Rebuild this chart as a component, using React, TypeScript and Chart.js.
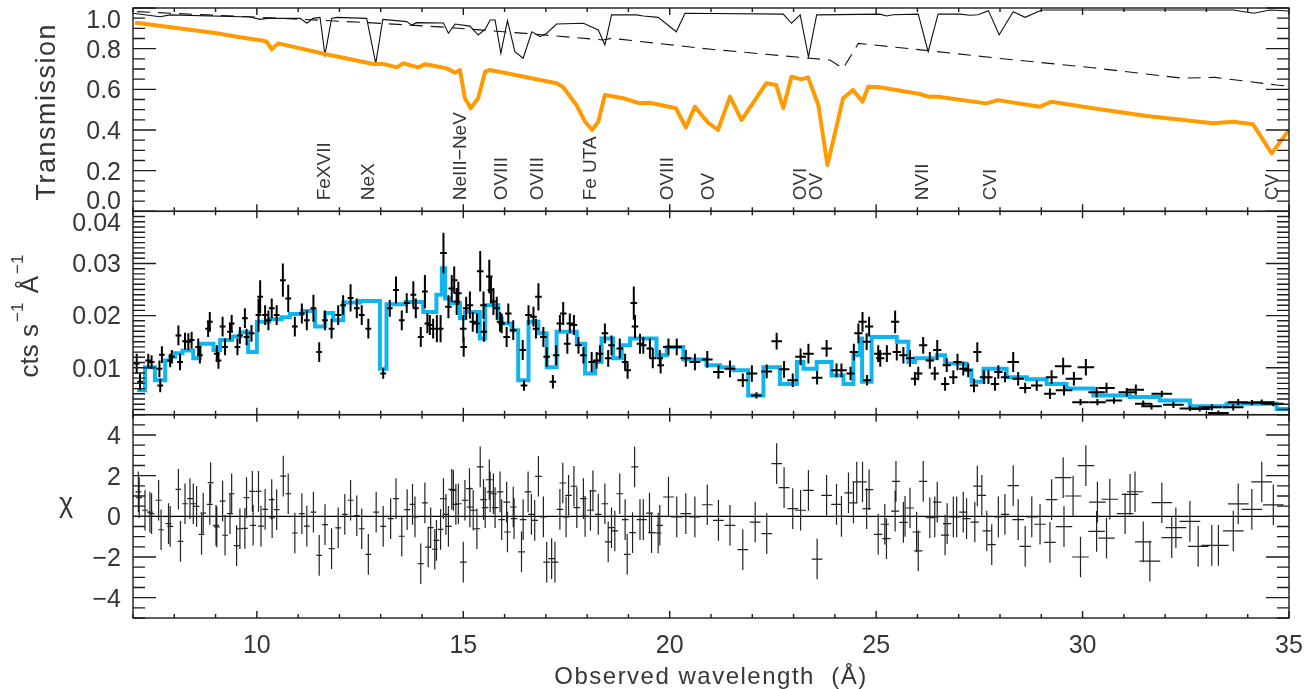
import React, { useEffect, useRef } from "react";
import { Chart, registerables } from "chart.js";
Chart.register(...registerables);

const W = 1311;
const H = 689;

// ---------- tick values ----------
const X_TICKS = [10, 15, 20, 25, 30, 35];
const TRANS_TICKS = [0, 0.2, 0.4, 0.6, 0.8, 1.0];
const FLUX_TICKS = [0.01, 0.02, 0.03, 0.04];
const CHI_TICKS = [-4, -2, 0, 2, 4];

// ---------- absorption line labels ----------
const LINE_NAMES = ["FeXVII", "NeX", "NeIII\u2212NeV", "OVIII", "OVIII", "Fe UTA", "OVIII", "OV", "OVI", "OV", "NVII", "CVI", "CV"];
const LINE_WAVES = [11.65, 12.72, 14.94, 15.94, 16.81, 18.09, 19.96, 20.95, 23.18, 23.57, 26.13, 27.78, 34.61];

// ---------- transmission curves [wavelength, transmission] ----------
const TOTAL_TRANS: number[][] = [
  [7.05, 0.928], [7.17, 0.925], [9.03, 0.876], [9.59, 0.856], [10.16, 0.839], [10.24, 0.834], [10.36, 0.797], [10.52, 0.826],
  [11.65, 0.774], [12.82, 0.725], [13.06, 0.725], [13.39, 0.708], [13.55, 0.728], [13.91, 0.708], [14.07, 0.723], [14.19, 0.72],
  [14.6, 0.703], [14.8, 0.682], [14.92, 0.695], [15.04, 0.556], [15.18, 0.507], [15.36, 0.556], [15.53, 0.687], [15.65, 0.695],
  [17.26, 0.63], [17.42, 0.61], [17.74, 0.523], [17.95, 0.441], [18.12, 0.4], [18.27, 0.441], [18.43, 0.572], [18.87, 0.556],
  [19.28, 0.531], [19.52, 0.534], [20.15, 0.507], [20.39, 0.413], [20.61, 0.514], [20.93, 0.436], [21.17, 0.4], [21.46, 0.564],
  [21.74, 0.449], [22.34, 0.63], [22.58, 0.621], [22.75, 0.507], [22.95, 0.662], [23.19, 0.649], [23.35, 0.659], [23.6, 0.523],
  [23.82, 0.228], [24.2, 0.556], [24.44, 0.597], [24.67, 0.539], [24.81, 0.613], [25.09, 0.61], [26.06, 0.577], [26.26, 0.564],
  [26.5, 0.564], [27.67, 0.531], [27.95, 0.547], [28.96, 0.514], [29.24, 0.539], [30.09, 0.512], [31.55, 0.469], [33.16, 0.433],
  [33.65, 0.441], [34.13, 0.428], [34.58, 0.285], [35.0, 0.4],
];
const IONIZED_TRANS: number[][] = [
  [7.0, 0.974], [7.65, 0.957], [7.9, 0.966], [9.83, 0.956], [10.08, 0.944], [10.25, 0.949], [11.05, 0.949], [11.21, 0.925],
  [11.36, 0.949], [11.53, 0.954], [11.65, 0.769], [11.81, 0.949], [11.94, 0.954], [12.66, 0.949], [12.88, 0.728], [13.05, 0.944],
  [13.63, 0.933], [13.75, 0.916], [13.87, 0.928], [14.52, 0.926], [14.64, 0.876], [14.8, 0.921], [15.16, 0.911], [15.36, 0.867],
  [15.53, 0.895], [15.65, 0.941], [15.77, 0.941], [15.91, 0.777], [16.07, 0.938], [16.25, 0.785], [16.45, 0.753], [16.66, 0.883],
  [16.86, 0.859], [17.02, 0.876], [17.26, 0.921], [17.91, 0.925], [18.27, 0.892], [18.43, 0.818], [18.59, 0.966], [19.2, 0.966],
  [19.36, 0.961], [19.72, 0.954], [20.16, 0.883], [20.37, 0.974], [22.75, 0.97], [22.95, 0.925], [23.16, 0.966], [23.36, 0.76],
  [23.56, 0.966], [25.09, 0.97], [25.25, 0.961], [25.41, 0.967], [26.02, 0.97], [26.26, 0.785], [26.5, 0.97], [27.03, 0.97],
  [27.27, 0.964], [27.47, 0.967], [27.72, 0.987], [27.98, 0.868], [28.32, 0.982], [28.61, 0.954], [29.01, 0.99], [30.02, 0.99],
  [33.65, 0.99], [34.14, 0.974], [34.54, 0.99], [35.0, 0.985],
];
const NEUTRAL_TRANS: number[][] = [
  [7.1, 0.982], [10.0, 0.955], [12.7, 0.928], [14.6, 0.905], [16.5, 0.875], [18.39, 0.843], [18.59, 0.851], [21.0, 0.797],
  [23.88, 0.744], [24.2, 0.703], [24.57, 0.826], [26.14, 0.793], [28.0, 0.752], [30.25, 0.706], [32.4, 0.655], [33.2, 0.659],
  [34.7, 0.621], [35.0, 0.616],
];

// ---------- spectrum [wavelength, cts/s/A, error] ----------
const SPECTRUM: number[][] = [
  [7.09, 0.0108, 0.0019], [7.17, 0.0073, 0.0016], [7.37, 0.0114, 0.0013], [7.45, 0.0111, 0.0013], [7.64, 0.0098, 0.0016],
  [7.66, 0.0066, 0.0013], [7.7, 0.0125, 0.0016], [7.9, 0.0114, 0.0013], [7.94, 0.0121, 0.0013], [8.1, 0.0162, 0.0019],
  [8.14, 0.0111, 0.0016], [8.26, 0.0151, 0.0016], [8.34, 0.015, 0.0016], [8.42, 0.0153, 0.0016], [8.58, 0.014, 0.0016],
  [8.62, 0.0124, 0.0016], [8.82, 0.0175, 0.0016], [8.86, 0.0188, 0.0019], [9.03, 0.0127, 0.0016], [9.07, 0.0114, 0.0016],
  [9.17, 0.0179, 0.0019], [9.23, 0.014, 0.0016], [9.35, 0.0169, 0.0016], [9.39, 0.0185, 0.0016], [9.53, 0.014, 0.0016],
  [9.59, 0.0162, 0.0016], [9.71, 0.0195, 0.0019], [9.75, 0.0159, 0.0016], [9.87, 0.0166, 0.0016], [10.04, 0.0201, 0.0032],
  [10.08, 0.0236, 0.0032], [10.2, 0.0201, 0.0019], [10.28, 0.0191, 0.0019], [10.36, 0.0214, 0.0019], [10.48, 0.0201, 0.0019],
  [10.63, 0.0268, 0.0032], [10.76, 0.0233, 0.0026], [10.92, 0.0179, 0.0019], [11.09, 0.0204, 0.0019], [11.21, 0.0191, 0.0019],
  [11.37, 0.0214, 0.0026], [11.51, 0.013, 0.0019], [11.65, 0.0191, 0.0019], [11.81, 0.0175, 0.0019], [11.97, 0.0201, 0.0019],
  [12.09, 0.022, 0.0019], [12.27, 0.0234, 0.0026], [12.42, 0.0214, 0.0019], [12.54, 0.0201, 0.0019], [12.7, 0.0175, 0.0019],
  [13.06, 0.0089, 0.001], [13.22, 0.0214, 0.0016], [13.37, 0.0249, 0.0026], [13.51, 0.0191, 0.0019], [13.63, 0.0224, 0.0019],
  [13.79, 0.024, 0.0026], [13.85, 0.0214, 0.0019], [13.97, 0.0159, 0.0019], [14.07, 0.0246, 0.0032], [14.13, 0.0185, 0.0019],
  [14.19, 0.0182, 0.0019], [14.27, 0.0175, 0.0019], [14.36, 0.0175, 0.0026], [14.45, 0.0175, 0.0026], [14.52, 0.032, 0.0039],
  [14.64, 0.0217, 0.0022], [14.72, 0.0252, 0.0026], [14.78, 0.0268, 0.0026], [14.84, 0.0227, 0.0026], [14.88, 0.0243, 0.0022],
  [15.0, 0.0175, 0.0026], [15.01, 0.014, 0.0019], [15.07, 0.0214, 0.0022], [15.16, 0.022, 0.0026], [15.23, 0.0188, 0.0019],
  [15.33, 0.0185, 0.0019], [15.41, 0.0285, 0.0039], [15.49, 0.022, 0.0026], [15.5, 0.0169, 0.0019], [15.63, 0.0275, 0.0032],
  [15.67, 0.0249, 0.0026], [15.73, 0.0227, 0.0026], [15.81, 0.0214, 0.0022], [15.89, 0.0188, 0.0019], [15.93, 0.0185, 0.0019],
  [16.05, 0.0159, 0.0019], [16.09, 0.0204, 0.0019], [16.21, 0.0172, 0.0019], [16.44, 0.0134, 0.0019], [16.47, 0.0066, 0.001],
  [16.58, 0.0201, 0.0019], [16.7, 0.0198, 0.0019], [16.76, 0.0175, 0.0019], [16.82, 0.0236, 0.0026], [16.94, 0.0159, 0.0019],
  [17.02, 0.0121, 0.0019], [17.17, 0.0073, 0.0013], [17.25, 0.0124, 0.0019], [17.34, 0.0185, 0.0016], [17.42, 0.0204, 0.0022],
  [17.52, 0.0146, 0.0019], [17.58, 0.0185, 0.0019], [17.68, 0.0182, 0.0019], [17.79, 0.0143, 0.0016], [17.91, 0.0124, 0.0016],
  [18.11, 0.0111, 0.0019], [18.23, 0.0114, 0.0016], [18.31, 0.0127, 0.0016], [18.43, 0.0166, 0.0019], [18.51, 0.0118, 0.0016],
  [18.59, 0.0143, 0.0019], [18.79, 0.0137, 0.0019], [18.92, 0.0111, 0.0016], [18.98, 0.0095, 0.0016], [19.13, 0.0224, 0.0032],
  [19.16, 0.0179, 0.0022], [19.28, 0.0146, 0.0019], [19.36, 0.0143, 0.0016], [19.52, 0.0137, 0.0019], [19.59, 0.0118, 0.0019],
  [19.76, 0.0118, 0.0016], [19.78, 0.0105, 0.0016], [19.97, 0.014, 0.0016], [20.17, 0.014, 0.0016], [20.39, 0.0118, 0.0016],
  [20.61, 0.0111, 0.0016], [20.91, 0.0116, 0.0016], [21.18, 0.0092, 0.0013], [21.46, 0.0098, 0.0016], [21.77, 0.0076, 0.0013],
  [21.99, 0.0089, 0.0016], [22.1, 0.0047, 0.0006], [22.35, 0.0093, 0.0013], [22.59, 0.0151, 0.0016], [22.77, 0.0097, 0.0016],
  [22.98, 0.0076, 0.0013], [23.17, 0.0121, 0.0016], [23.36, 0.0127, 0.0019], [23.57, 0.0081, 0.0013], [23.8, 0.0137, 0.0016],
  [24.04, 0.0095, 0.0013], [24.16, 0.0095, 0.0013], [24.38, 0.0089, 0.0013], [24.46, 0.013, 0.0016], [24.57, 0.0166, 0.0019],
  [24.67, 0.0188, 0.0019], [24.77, 0.015, 0.0016], [24.78, 0.0076, 0.001], [24.83, 0.0179, 0.0019], [25.05, 0.0127, 0.0016],
  [25.1, 0.0118, 0.0016], [25.26, 0.0127, 0.0016], [25.46, 0.0188, 0.0022], [25.5, 0.013, 0.0016], [25.66, 0.0124, 0.0016],
  [25.82, 0.0118, 0.0016], [25.94, 0.0079, 0.0013], [26.02, 0.0089, 0.0013], [26.14, 0.0143, 0.0016], [26.3, 0.0114, 0.0016],
  [26.42, 0.0089, 0.0013], [26.48, 0.0134, 0.0019], [26.67, 0.0069, 0.0013], [26.71, 0.0105, 0.0013], [26.87, 0.0082, 0.0013],
  [26.97, 0.0111, 0.0016], [27.11, 0.0098, 0.0013], [27.23, 0.0095, 0.0013], [27.37, 0.0066, 0.0013], [27.45, 0.013, 0.0019],
  [27.61, 0.0082, 0.0013], [27.72, 0.0082, 0.0013], [27.88, 0.0069, 0.0013], [27.96, 0.0092, 0.0013], [28.12, 0.0082, 0.001],
  [28.32, 0.0111, 0.0019], [28.44, 0.0079, 0.0013], [28.61, 0.0061, 0.001], [28.89, 0.0066, 0.001], [29.21, 0.005, 0.001],
  [29.25, 0.0082, 0.0013], [29.53, 0.0103, 0.0016], [29.55, 0.0057, 0.001], [29.79, 0.0079, 0.0013], [29.95, 0.0034, 0.0006],
  [30.08, 0.0101, 0.0016], [30.34, 0.0053, 0.001], [30.36, 0.0034, 0.0006], [30.58, 0.0061, 0.001], [30.76, 0.0037, 0.0006],
  [31.07, 0.0053, 0.0008], [31.29, 0.0058, 0.001], [31.47, 0.0031, 0.0006], [31.67, 0.0026, 0.0006], [31.92, 0.005, 0.0006],
  [32.2, 0.0029, 0.0006], [32.6, 0.0022, 0.0005], [32.84, 0.0021, 0.0005], [33.13, 0.0024, 0.0006], [33.29, 0.0013, 0.0005],
  [33.65, 0.0024, 0.0006], [33.77, 0.0034, 0.0006], [34.1, 0.0033, 0.0005], [34.34, 0.0034, 0.0005], [34.62, 0.0031, 0.0005],
];

// ---------- model (bin left edge, value) ----------
const MODEL: number[][] = [
  [7.1, 0.0057], [7.29, 0.0101], [7.53, 0.0076], [7.78, 0.0114], [7.9, 0.0121], [8.02, 0.0128], [8.2, 0.0133], [8.46, 0.0118],
  [8.62, 0.0146], [8.95, 0.0134], [9.11, 0.0153], [9.4, 0.016], [9.6, 0.0168], [9.79, 0.013], [10.0, 0.0188], [10.3, 0.0193],
  [10.6, 0.0197], [10.8, 0.0203], [11.1, 0.0209], [11.41, 0.0179], [11.65, 0.0205], [11.85, 0.0191], [12.09, 0.0225], [12.5, 0.0228],
  [12.98, 0.0098], [13.14, 0.0222], [13.6, 0.0226], [14.03, 0.0207], [14.35, 0.024], [14.48, 0.0291], [14.56, 0.0233], [14.68, 0.0224],
  [14.92, 0.0195], [15.04, 0.0207], [15.4, 0.0156], [15.53, 0.022], [15.85, 0.0195], [15.93, 0.0185], [16.17, 0.0172], [16.33, 0.0076],
  [16.58, 0.0188], [16.82, 0.0166], [17.02, 0.0101], [17.26, 0.0169], [17.75, 0.0146], [17.95, 0.0089], [18.19, 0.0111], [18.35, 0.0156],
  [18.63, 0.0118], [18.84, 0.0143], [19.04, 0.0156], [19.68, 0.0124], [19.93, 0.014], [20.33, 0.0116], [20.89, 0.0105], [21.22, 0.0101],
  [21.54, 0.0095], [21.9, 0.0047], [22.27, 0.0101], [22.67, 0.0069], [23.08, 0.0111], [23.24, 0.0098], [23.56, 0.0111], [23.92, 0.0085],
  [24.21, 0.0069], [24.45, 0.0124], [24.61, 0.0156], [24.66, 0.0073], [24.89, 0.0159], [25.5, 0.015], [25.78, 0.0111], [25.94, 0.0118],
  [26.47, 0.0124], [26.67, 0.0108], [27.19, 0.0095], [27.31, 0.0073], [27.6, 0.0098], [28.16, 0.0082], [28.65, 0.0078], [29.13, 0.0069],
  [29.61, 0.006], [30.26, 0.0047], [31.15, 0.0044], [31.87, 0.0037], [32.6, 0.0026], [33.49, 0.0031], [34.7, 0.0021], [35.0, 0.0021],
];

// ---------- residuals [wavelength, chi] (error = 1) ----------
const RESIDUALS: number[][] = [
  [7.13, 1.2], [7.15, 0.92], [7.29, 0.3], [7.41, 0.21], [7.45, 0.13], [7.62, 0.79], [7.68, -0.66], [7.86, -0.36], [7.9, -0.49],
  [8.1, 1.33], [8.15, -1.23], [8.26, 0.62], [8.38, 0.87], [8.46, 0.62], [8.54, 0.49], [8.66, -0.89], [8.7, 0.16], [8.86, 0.59],
  [8.88, 1.66], [9.01, -0.44], [9.03, -0.52], [9.17, 0.75], [9.23, -0.93], [9.35, 0.13], [9.39, 1.11], [9.51, -1.44], [9.59, -0.61],
  [9.71, -0.59], [9.75, 0.92], [9.89, 1.23], [9.91, -0.44], [10.04, 1.23], [10.1, -0.48], [10.2, 0.34], [10.36, 0.82], [10.37, -0.07],
  [10.48, 0.33], [10.64, 1.98], [10.76, 1.11], [10.92, -0.82], [11.09, 0.13], [11.21, -0.48], [11.37, 0.21], [11.51, -1.92],
  [11.65, -0.41], [11.81, -1.59], [11.97, -0.57], [12.13, 0.1], [12.27, 0.79], [12.42, 0.03], [12.54, -0.61], [12.7, -1.87],
  [12.89, 0.21], [13.06, -0.49], [13.24, -0.11], [13.37, 0.87], [13.51, -0.98], [13.64, 0.33], [13.77, 0.59], [13.83, -0.03],
  [13.97, -2.33], [14.07, 0.66], [14.15, -1.51], [14.21, -0.56], [14.31, -1.62], [14.35, -1.18], [14.45, -0.64], [14.52, 0.87],
  [14.58, 0.1], [14.64, -0.49], [14.72, 1.33], [14.76, 1.28], [14.82, 0.59], [14.88, 0.62], [15.0, -2.25], [15.04, 0.79],
  [15.15, 1.36], [15.16, 0.46], [15.24, 0.3], [15.33, -0.61], [15.41, 2.43], [15.49, 0.82], [15.53, 0.43], [15.63, 1.8],
  [15.65, 1.2], [15.73, 1.11], [15.77, 0.43], [15.89, 1.2], [15.93, -0.16], [16.05, 0.7], [16.07, -0.77], [16.21, 0.46],
  [16.23, -0.11], [16.41, -1.75], [16.45, -0.16], [16.57, 1.2], [16.65, 0.1], [16.73, -0.2], [16.82, 1.97], [16.94, -0.03],
  [17.02, -2.25], [17.14, -2.08], [17.22, -2.25], [17.34, 0.34], [17.41, 1.64], [17.49, -0.03], [17.55, 1.03], [17.68, 1.48],
  [17.75, 0.43], [17.91, 0.87], [17.95, 0.0], [18.08, 0.3], [18.14, 1.25], [18.27, 0.1], [18.43, 0.62], [18.51, -1.26],
  [18.59, -0.56], [18.67, -0.72], [18.79, 1.11], [18.92, -0.16], [18.97, -1.87], [19.1, -0.8], [19.15, 2.43], [19.28, -0.16],
  [19.36, -0.16], [19.51, 0.16], [19.56, -0.8], [19.72, -0.82], [19.76, -0.44], [19.97, 0.95], [20.17, -0.03], [20.39, 0.13],
  [20.61, -0.03], [20.91, 0.57], [21.18, -0.2], [21.46, -0.44], [21.77, -1.64], [22.07, -0.28], [22.35, -0.85], [22.59, 2.59],
  [22.77, 1.41], [22.98, 0.38], [23.17, 0.3], [23.36, 1.28], [23.57, -2.1], [23.8, 1.03], [24.04, 0.59], [24.16, 0.0],
  [24.33, 1.15], [24.45, 0.66], [24.53, 1.69], [24.67, 1.69], [24.77, 0.38], [24.83, 1.31], [25.05, -0.89], [25.21, -0.39],
  [25.25, -1.1], [25.46, 0.26], [25.48, 1.72], [25.66, -0.3], [25.7, 0.0], [25.82, 0.41], [25.98, -0.77], [26.02, -1.7],
  [26.14, 1.72], [26.3, -0.07], [26.42, -0.03], [26.48, 0.7], [26.67, -0.92], [26.72, -0.36], [26.87, -0.03], [26.95, -0.03],
  [27.11, 0.21], [27.19, -0.11], [27.39, -0.28], [27.45, 1.49], [27.56, 1.03], [27.68, -0.72], [27.8, -1.39], [27.96, -0.03],
  [28.12, 0.1], [28.32, 1.51], [28.44, -0.16], [28.61, -1.48], [28.77, -0.03], [28.97, -0.39], [29.21, -1.28], [29.25, 0.82],
  [29.53, 1.9], [29.55, -0.51], [29.77, 1.0], [29.95, -2.0], [30.08, 2.49], [30.34, -0.74], [30.36, 0.7], [30.58, -1.07],
  [30.66, 0.84], [31.03, 0.13], [31.15, 1.08], [31.27, 1.21], [31.47, -1.26], [31.63, -2.2], [31.92, 0.67], [32.16, -1.05],
  [32.26, -0.56], [32.6, -0.25], [32.8, -1.48], [33.13, -1.43], [33.29, -1.43], [33.65, -0.72], [33.77, 0.61], [34.1, 0.34],
  [34.34, 1.69], [34.62, 0.56],
];
const RESIDUAL_ERROR = 1;

// bin half-widths (Angstrom) by wavelength range start
const BIN_HALF_ZONES: number[][] = [[7, 0.07], [14.5, 0.08], [19.8, 0.13], [24.3, 0.1], [28.3, 0.14], [29.5, 0.2], [31.5, 0.25]];

function binHalf(l: number): number {
  let w = BIN_HALF_ZONES[0][1];
  for (const [s, h] of BIN_HALF_ZONES) if (l >= s) w = h;
  return w;
}

function crosses(rows: number[][], errOf: (r: number[]) => number) {
  const pts: { x: number; y: number | null }[] = [];
  for (const r of rows) {
    const l = r[0], v = r[1], e = errOf(r), dx = binHalf(l);
    pts.push({ x: l - dx, y: v }, { x: l + dx, y: v }, { x: l + dx, y: null });
    pts.push({ x: l, y: v - e }, { x: l, y: v + e }, { x: l, y: null });
  }
  return pts;
}

const xy = (rows: number[][]) => rows.map((r) => ({ x: r[0], y: r[1] }));

const FONT = '"Liberation Sans", Arial, sans-serif';
const INK = "#1c1c1c";
const TEXT = "#363636";

const PANELS = [
  { id: "yT", ticks: TRANS_TICKS, minor: 0.05, fmt: (v: number) => v.toFixed(1) },
  { id: "yM", ticks: FLUX_TICKS, minor: 0.001, fmt: (v: number) => v.toFixed(2) },
  { id: "yB", ticks: CHI_TICKS, minor: 0.5, fmt: (v: number) => (v < 0 ? "\u2212" + Math.abs(v) : String(v)) },
];

const idlAxes = {
  id: "idlAxes",
  afterDraw(chart: any) {
    const ctx: CanvasRenderingContext2D = chart.ctx;
    const { left, right, bottom } = chart.chartArea;
    const xs = chart.scales.x;
    ctx.save();
    ctx.strokeStyle = INK;
    ctx.fillStyle = TEXT;
    ctx.lineWidth = 1.4;
    for (const p of PANELS) {
      const ys = chart.scales[p.id];
      const top = ys.top, bot = ys.bottom;
      ctx.strokeRect(left, top, right - left, bot - top);
      ctx.beginPath();
      for (let k = Math.ceil(xs.min); k <= Math.floor(xs.max); k++) {
        const px = xs.getPixelForValue(k);
        const len = X_TICKS.includes(k) ? 7 : 4;
        ctx.moveTo(px, top); ctx.lineTo(px, top + len);
        ctx.moveTo(px, bot); ctx.lineTo(px, bot - len);
      }
      const n0 = Math.ceil(ys.min / p.minor - 1e-6), n1 = Math.floor(ys.max / p.minor + 1e-6);
      for (let n = n0; n <= n1; n++) {
        const v = n * p.minor;
        const major = p.ticks.some((t) => Math.abs(t - v) < p.minor * 0.01);
        const len = major ? 23 : 12;
        const py = ys.getPixelForValue(v);
        ctx.moveTo(left, py); ctx.lineTo(left + len, py);
        ctx.moveTo(right, py); ctx.lineTo(right - len, py);
      }
      ctx.stroke();
      ctx.font = `25px ${FONT}`;
      ctx.textAlign = "right";
      ctx.textBaseline = "middle";
      for (const t of p.ticks) {
        let py = ys.getPixelForValue(t) + 2;
        py = Math.min(Math.max(py, top + 13), bot - 9);
        ctx.fillText(p.fmt(t), 121, py);
      }
    }
    // x tick labels and title
    ctx.font = `25px ${FONT}`;
    ctx.textAlign = "center";
    ctx.textBaseline = "alphabetic";
    for (const t of X_TICKS) ctx.fillText(String(t), xs.getPixelForValue(t), bottom + 35);
    (ctx as any).letterSpacing = "1.5px";
    ctx.font = `24px ${FONT}`;
    ctx.fillText("Observed wavelength  (\u00c5)", (left + right) / 2, bottom + 66);
    // y titles
    const yT = chart.scales.yT, yM = chart.scales.yM, yB = chart.scales.yB;
    ctx.save();
    ctx.font = `27px ${FONT}`;
    ctx.translate(55, (yT.top + yT.bottom) / 2 + 2);
    ctx.rotate(-Math.PI / 2);
    ctx.fillText("Transmission", 0, 0);
    ctx.restore();
    (ctx as any).letterSpacing = "0px";
    // cts s^-1 A^-1
    ctx.save();
    const runs = [
      { t: "cts s", f: 26, dy: 0 },
      { t: "\u22121", f: 17, dy: -15 },
      { t: " \u00c5", f: 26, dy: 0 },
      { t: "\u22121", f: 17, dy: -15 },
    ];
    let total = 0;
    for (const r of runs) { ctx.font = `${r.f}px ${FONT}`; total += ctx.measureText(r.t).width + 2; }
    ctx.translate(38, (yM.top + yM.bottom) / 2 + 2);
    ctx.rotate(-Math.PI / 2);
    ctx.textAlign = "left";
    let cx = -total / 2;
    for (const r of runs) {
      ctx.font = `${r.f}px ${FONT}`;
      ctx.fillText(r.t, cx, r.dy);
      cx += ctx.measureText(r.t).width + 2;
    }
    ctx.restore();
    ctx.font = `27px ${FONT}`;
    ctx.textAlign = "center";
    ctx.fillText("\u03c7", 66, (yB.top + yB.bottom) / 2 - 4);
    // absorption line labels
    ctx.font = `19px ${FONT}`;
    ctx.textAlign = "left";
    ctx.textBaseline = "middle";
    for (let i = 0; i < LINE_NAMES.length; i++) {
      ctx.save();
      ctx.translate(xs.getPixelForValue(LINE_WAVES[i]), yT.bottom - 11);
      ctx.rotate(-Math.PI / 2);
      ctx.fillText(LINE_NAMES[i], 0, 0);
      ctx.restore();
    }
    ctx.restore();
  },
};

const hiddenAxis = {
  grid: { display: false },
  border: { display: false },
  ticks: { display: false },
};

export default function App() {
  const ref = useRef<HTMLCanvasElement>(null);
  useEffect(() => {
    if (!ref.current) return;
    const chart = new Chart(ref.current, {
      type: "line",
      data: {
        datasets: [
          { data: xy(TOTAL_TRANS), xAxisID: "x", yAxisID: "yT", borderColor: "#ff9a00", borderWidth: 4, pointRadius: 0, order: 0, borderJoinStyle: "round" } as any,
          { data: xy(IONIZED_TRANS), xAxisID: "x", yAxisID: "yT", borderColor: "#111", borderWidth: 1.1, pointRadius: 0, order: 1 },
          { data: xy(NEUTRAL_TRANS), xAxisID: "x", yAxisID: "yT", borderColor: "#111", borderWidth: 1.1, borderDash: [13, 8], pointRadius: 0, order: 2 },
          { data: crosses(SPECTRUM, (r) => r[2]), xAxisID: "x", yAxisID: "yM", borderColor: "#000", borderWidth: 2, pointRadius: 0, spanGaps: false, order: 3, borderCapStyle: "butt" } as any,
          { data: xy(MODEL), xAxisID: "x", yAxisID: "yM", borderColor: "#10b4ee", borderWidth: 4, pointRadius: 0, stepped: "before", order: 4, borderJoinStyle: "miter" } as any,
          { data: crosses(RESIDUALS, () => RESIDUAL_ERROR), xAxisID: "x", yAxisID: "yB", borderColor: "#222", borderWidth: 1.2, pointRadius: 0, spanGaps: false, order: 5 },
          { data: [{ x: 7, y: 0 }, { x: 35, y: 0 }], xAxisID: "x", yAxisID: "yB", borderColor: "#000", borderWidth: 1.3, pointRadius: 0, order: 6 },
        ],
      },
      options: {
        responsive: false,
        animation: false,
        devicePixelRatio: 1,
        events: [],
        layout: { padding: { top: 8, right: 22, left: 0, bottom: 0 } },
        plugins: { legend: { display: false }, tooltip: { enabled: false } },
        scales: {
          x: { type: "linear", min: 7, max: 35, position: "bottom", ...hiddenAxis, afterFit: (s: any) => { s.height = 71; } },
          yT: { type: "linear", min: 0, max: 1, position: "left", stack: "panels", stackWeight: 1, weight: 3, ...hiddenAxis, afterFit: (s: any) => { s.width = 133; } },
          yM: { type: "linear", min: 0.001, max: 0.04, position: "left", stack: "panels", stackWeight: 1, weight: 2, ...hiddenAxis, afterFit: (s: any) => { s.width = 133; } },
          yB: { type: "linear", min: -5, max: 5, position: "left", stack: "panels", stackWeight: 1, weight: 1, ...hiddenAxis, afterFit: (s: any) => { s.width = 133; } },
        } as any,
      },
      plugins: [idlAxes],
    } as any);
    return () => chart.destroy();
  }, []);
  return (
    <div style={{ position: "absolute", left: 0, top: 0, width: W, height: H, background: "#fff" }}>
      <canvas ref={ref} width={W} height={H} style={{ width: W, height: H, display: "block" }} />
    </div>
  );
}
